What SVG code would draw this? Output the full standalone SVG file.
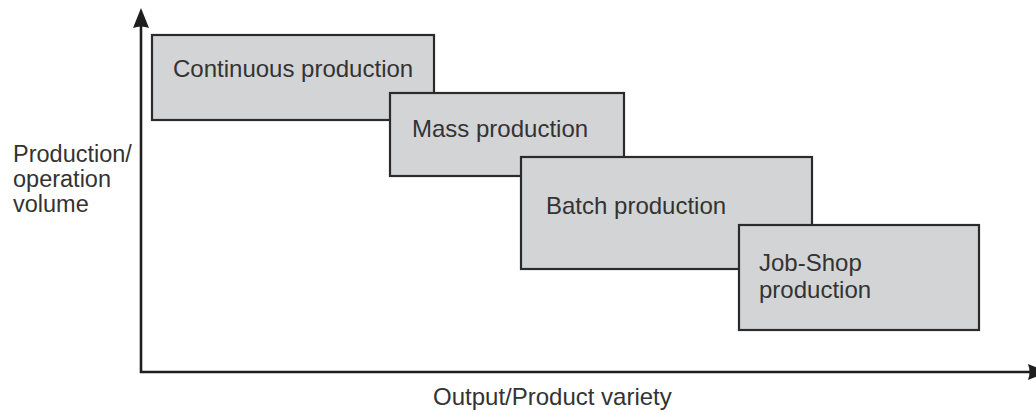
<svg xmlns="http://www.w3.org/2000/svg" width="1036" height="412" viewBox="0 0 1036 412">
<defs>
<style>
.box{fill:#d3d4d6;stroke:#2b2b2b;stroke-width:2.2}
.t{font-family:"Liberation Sans",Arial,sans-serif;font-size:24px;fill:#333}
.ax{stroke:#1e1e1e;stroke-width:2.6;fill:none}
.ah{fill:#1e1e1e}
</style>
</defs>
<rect width="1036" height="412" fill="#fff"/>
<g id="axes">
<path class="ax" d="M141,24 V372 H1032"/>
<path class="ah" d="M141,8 L149,28 Q141,25 133,28 Z"/>
<path class="ah" d="M1048,372 L1028,380 Q1031,372 1028,364 Z"/>
</g>
<g id="continuous">
<rect class="box" x="152" y="35" width="282" height="85"/>
<text class="t" x="173" y="77">Continuous production</text>
</g>
<g id="mass">
<rect class="box" x="390" y="93" width="234" height="83"/>
<text class="t" x="412" y="137">Mass production</text>
</g>
<g id="batch">
<rect class="box" x="521" y="157" width="291" height="112"/>
<text class="t" x="546" y="214">Batch production</text>
</g>
<g id="jobshop">
<rect class="box" x="739" y="225" width="240" height="105"/>
<text class="t" x="759" y="271">Job-Shop</text>
<text class="t" x="759" y="298">production</text>
</g>
<g id="labels">
<text class="t" x="13" y="162" style="font-size:23.5px">Production/</text>
<text class="t" x="13" y="187" style="font-size:23.5px">operation</text>
<text class="t" x="13" y="212" style="font-size:23.5px">volume</text>
<text class="t" x="433" y="405">Output/Product variety</text>
</g>
</svg>
